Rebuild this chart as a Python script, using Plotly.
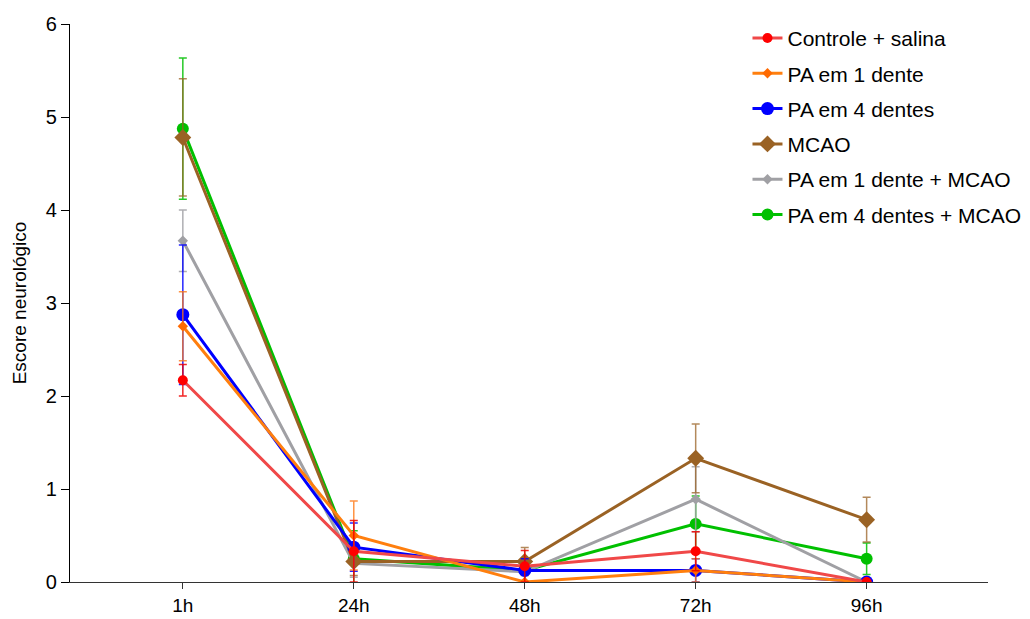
import plotly.graph_objects as go

categories = ["1h", "24h", "48h", "72h", "96h"]

names = ["Controle + salina", "PA em 1 dente", "PA em 4 dentes", "MCAO",
         "PA em 1 dente + MCAO", "PA em 4 dentes + MCAO"]

controle = [2.17, 0.33, 0.17, 0.33, 0.0]
controle_err = [0.17, 0.33, 0.17, 0.21, 0.0]
pa1 = [2.75, 0.5, 0.0, 0.125, 0.0]
pa1_err = [0.37, 0.37, 0.0, 0.125, 0.0]
pa4 = [2.875, 0.375, 0.125, 0.125, 0.0]
pa4_err = [0.75, 0.26, 0.125, 0.125, 0.0]
mcao = [4.78, 0.22, 0.22, 1.33, 0.67]
mcao_err = [0.63, 0.15, 0.15, 0.37, 0.24]
pa1_mcao = [3.67, 0.2, 0.11, 0.89, 0.0]
pa1_mcao_err = [0.33, 0.15, 0.11, 0.35, 0.0]
pa4_mcao = [4.875, 0.25, 0.125, 0.625, 0.25]
pa4_mcao_err = [0.76, 0.3, 0.125, 0.3, 0.17]

series = [
    # name, values, errors, line color, marker color, error color, symbol, size, rank
    (names[5], pa4_mcao, pa4_mcao_err, "#00c000", "#00c000", "rgba(0,192,0,0.85)", "circle", 12, 6),
    (names[4], pa1_mcao, pa1_mcao_err, "#a0a0a4", "#a0a0a4", "rgba(160,160,164,0.85)", "diamond", 8, 5),
    (names[3], mcao, mcao_err, "#9a6224", "#9a6224", "rgba(154,98,36,0.75)", "diamond", 13, 4),
    (names[2], pa4, pa4_err, "#0000ff", "#0000ff", "rgba(0,0,255,0.85)", "circle", 13, 3),
    (names[1], pa1, pa1_err, "#ff7f0e", "#ff6a00", "rgba(255,120,20,0.8)", "diamond", 8, 2),
    (names[0], controle, controle_err, "#f04848", "#ff0000", "rgba(240,0,0,0.85)", "circle", 10, 1),
]

fig = go.Figure()
for name, vals, errs, lc, mc, ec, sym, sz, rank in series:
    fig.add_trace(go.Scatter(
        x=categories, y=vals, name=name, mode="lines+markers",
        line=dict(color=lc, width=3),
        marker=dict(color=mc, symbol=sym, size=sz),
        error_y=dict(type="data", array=errs, visible=True, color=ec,
                     thickness=1.5, width=4),
        legendrank=rank, legendgroup=name,
    ))

fig.update_layout(
    width=1030, height=619,
    margin=dict(l=70, r=42, t=24, b=37, autoexpand=False),
    paper_bgcolor="white", plot_bgcolor="white",
    font=dict(family="Liberation Sans, Arial, sans-serif", size=20, color="black"),
    showlegend=True,
    legend=dict(x=0.738, y=1.011, xanchor="left", yanchor="top",
                bgcolor="rgba(0,0,0,0)", font=dict(size=21),
                tracegroupgap=5, itemwidth=30),
    xaxis=dict(
        type="category", range=[-0.66, 4.71], automargin=False,
        showline=True, linecolor="#333333", linewidth=1.2,
        ticks="outside", ticklen=6, tickcolor="#333333",
        showgrid=False, zeroline=False,
        tickfont=dict(size=19),
    ),
    yaxis=dict(
        range=[0, 6], tickvals=[0, 1, 2, 3, 4, 5, 6], automargin=False,
        showline=True, linecolor="black", linewidth=1.2,
        ticks="outside", ticklen=8, tickcolor="black",
        showgrid=False, zeroline=False,
        title=dict(text="Escore neurológico", font=dict(size=19), standoff=14),
        tickfont=dict(size=20),
    ),
)

fig.write_html("out.html")
